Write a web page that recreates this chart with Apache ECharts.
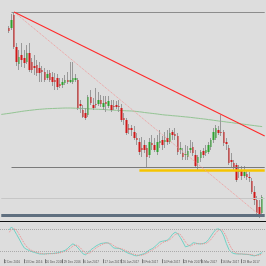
<!DOCTYPE html>
<html><head><meta charset="utf-8">
<script src="https://cdn.jsdelivr.net/npm/echarts@6/dist/echarts.min.js"></script>
<style>html,body{margin:0;padding:0;background:#dddddd}#c{width:266px;height:266px}</style>
</head><body><div id="c"></div>
<script>
// OHLC of the visible bars (price units, arbitrary scale)
const opens=[192,192,205,173,156,165,162,158,167,158,154,155,152,150,148,142,147,143,140,142,136,135,137,140,138,138,140,140,116,110,107,105,123,115,116,116,120,113,118,114,115,114,115,114,112,102,100,92,92,88,82,78,72,75,72,65,77,75,68,77,80,78,82,78,88,86,84,70,67,65,63,70,73,65,57,62,69,67,68,73,80,82,90,88,88,78,72,60,57,55,48,50,44,46,43,39,28,20,13,7];
const closes=[189,200,173,158,163,160,157,167,150,150,152,147,147,148,140,146,140,138,138,133,134,138,140,138,140,142,142,112,114,103,102,123,117,112,115,120,116,117,116,119,110,113,113,113,100,100,87,90,90,82,80,68,70,70,63,78,75,70,78,79,75,80,78,87,85,84,68,72,63,66,69,72,67,54,63,68,65,70,75,80,88,92,87,87,77,76,57,58,52,40,50,44,48,43,42,28,20,7,3,23];
const lows=[187,190,171,154,150,153,152,156,148,147,145,144,138,138,138,140,138,134,130,130,132,132,135,136,137,136,138,110,107,102,100,103,115,110,112,114,113,110,108,112,108,110,111,108,98,95,85,86,84,80,75,65,63,67,52,62,70,68,65,72,70,72,75,76,80,80,65,66,60,60,60,67,64,52,50,58,62,64,66,70,77,80,85,84,74,70,55,52,50,38,42,40,42,40,38,26,15,5,2,4];
const highs=[194,206,208,177,170,177,170,175,177,162,165,160,158,154,152,150,150,148,147,146,142,142,145,148,158,158,146,142,120,115,112,125,130,122,132,128,125,124,124,124,120,120,119,120,116,107,102,96,95,94,87,82,83,80,75,82,85,82,85,90,84,88,90,92,90,92,87,78,72,75,74,80,78,70,65,70,72,75,78,82,92,95,94,105,90,82,75,67,60,57,55,54,54,50,48,42,34,24,20,25];
// moving average (first three values belong to bars just left of the view)
const maLead=[105.6,105.9,106.3];
const maValues=[106.6,107.0,107.4,107.8,108.2,108.6,109.0,109.3,109.6,109.9,110.2,110.5,110.7,110.9,111.1,111.3,111.4,111.5,111.6,111.7,111.8,111.9,112.0,112.0,112.0,111.9,111.8,111.7,111.6,111.5,111.4,111.2,111.1,111.0,110.8,110.7,110.6,110.5,110.3,110.1,110.0,109.8,109.7,109.6,109.4,109.3,109.2,109.1,109.0,108.8,108.5,108.2,107.9,107.5,107.2,106.9,106.6,106.3,106.0,105.6,105.3,105.0,104.8,104.6,104.3,104.1,103.9,103.6,103.4,103.1,102.9,102.6,102.3,102.0,101.7,101.4,101.1,100.8,100.4,100.1,99.7,99.4,99.0,98.7,98.4,98.0,97.7,97.4,97.0,96.7,96.4,96.0,95.7,95.4,95.0,94.7,94.4,94.0,93.7,93.4];
// stochastic oscillator
const stochMain=[78,86,78,66,54,41,30,26,23,20,18,16,14,14,14,15,15,15,16,17,19,21,24,29,36,41,37,30,22,14,12,18,25,30,35,39,42,43,44,43,36,30,29,29,26,22,18,15,13,10,9,11,13,15,20,25,28,33,40,46,48,49,51,58,67,72,68,58,46,33,35,38,44,43,41,41,42,45,52,62,72,80,81,76,62,42,26,18,15,14,14,14,13,13,12,10,9,11,14,18];
const stochSignal=[72,78,82,77,66,54,42,33,27,23,20,18,16,15,14,14,15,15,15,16,17,19,21,25,29,35,38,36,30,22,16,15,18,24,30,34,38,41,43,43,41,36,32,29,28,25,22,18,15,13,11,10,11,13,16,20,24,29,33,39,44,47,49,53,59,66,69,66,57,46,38,35,39,41,42,41,41,42,46,53,62,71,78,79,73,60,43,29,20,16,14,14,14,13,13,12,10,10,11,14];
const stochLevels=[20,80];
// date axis
const tickLabels=["2 Dec 2016","13 Dec 2016","20 Dec 2016","29 Dec 2016","6 Jan 2017","17 Jan 2017","26 Jan 2017","3 Feb 2017","14 Feb 2017","23 Feb 2017","6 Mar 2017","16 Mar 2017","23 Mar 2017"];
const tickBars=[-2,6,14,21,29,37,44,52,60,68,75,83,91]; // visible-bar index of each label
// drawn objects (bar index, price)
const hLineTop={from:1,price:208};
const hLineSupport={from:1,price:52.7};
const hLineYellow={from:51,price:50};
const hLineFaint={from:-3,price:21.3};
const hLineBottom={from:-3,price:4.5};
const trendRed=[[2,208],[100,84]];
const trendDotted=[[2,208],[97,7]];

const LEAD=3, TRAIL=1, N=opens.length, TOTAL=LEAD+N+TRAIL;
const cats=[]; for(let i=0;i<TOTAL;i++) cats.push('c'+i);
const labelAt={}; tickBars.forEach((b,k)=>{labelAt[b+LEAD]=tickLabels[k];});
const pad=a=>Array(LEAD).fill('-').concat(a,Array(TRAIL).fill('-'));
const wickData=pad(opens.map((o,i)=>[lows[i],lows[i],lows[i],highs[i]]));
const bodyData=pad(opens.map((o,i)=>[o,closes[i],Math.min(o,closes[i]),Math.max(o,closes[i])]));
const c=j=>j+LEAD;
const lastC=TOTAL-1;
const hl=(h,col,w,type)=>[{coord:[c(h.from)<0?0:c(h.from),h.price],lineStyle:{color:col,width:w,type:type||'solid'}},{coord:[lastC,h.price]}];
const tl=(t,col,w,type)=>[{coord:[c(t[0][0]),t[0][1]],lineStyle:{color:col,width:w,type:type}},{coord:[c(t[1][0]),t[1][1]]}];

const bw=2.66, gl=-8, gw=TOTAL*bw;
const chart=echarts.init(document.getElementById('c'),null,{renderer:'canvas'});
const isTick=(i)=>labelAt[i]!==undefined;
chart.setOption({
  animation:false,
  backgroundColor:'#dddddd',
  grid:[{left:gl,top:0,width:gw,height:220},{left:gl,top:221,width:gw,height:38.2}],
  xAxis:[
    {type:'category',data:cats,gridIndex:0,show:false},
    {type:'category',data:cats,gridIndex:1,position:'bottom',axisLine:{show:false},
     axisTick:{show:true,alignWithLabel:true,interval:(i)=>isTick(i),length:4,lineStyle:{color:'#777',width:1}},
     axisLabel:{interval:(i)=>isTick(i),formatter:(v,i)=>labelAt[i]||'',fontSize:3,fontFamily:'Liberation Sans',color:'#555',align:'left',margin:1,padding:[0,0,0,1]}},
    {type:'category',data:cats,gridIndex:1,position:'top',axisLine:{show:true,lineStyle:{color:'#111',width:1}},axisTick:{show:false},axisLabel:{show:false}}
  ],
  yAxis:[
    {type:'value',gridIndex:0,min:0,max:220,show:false,splitLine:{show:false}},
    {type:'value',gridIndex:1,min:0,max:102,show:false,splitLine:{show:false}}
  ],
  series:[
    {type:'line',name:'MA',xAxisIndex:0,yAxisIndex:0,data:maLead.concat(maValues,['-']),symbol:'none',lineStyle:{color:'#93c493',width:1},z:1,
     markLine:{silent:true,symbol:['none','none'],label:{show:false},animation:false,data:[
       hl(hLineTop,'#8c8c8c',1),
       hl(hLineSupport,'#7a7a7a',1),
       hl(hLineYellow,'#f5c400',2.5),
       hl(hLineFaint,'#c6c6c6',1),
       hl(hLineBottom,'#5f6f7f',3),
       tl(trendDotted,'#f29a9a',1,'dotted'),
       tl(trendRed,'#ff2a2a',1.1,'solid')
     ]}},
    {type:'candlestick',name:'wick',xAxisIndex:0,yAxisIndex:0,data:wickData,barWidth:1,z:2,
     itemStyle:{color:'#999',color0:'#999',borderColor:'#999',borderColor0:'#999',borderWidth:1}},
    {type:'candlestick',name:'body',xAxisIndex:0,yAxisIndex:0,data:bodyData,barWidth:2,z:3,
     itemStyle:{color:'#2ea32e',color0:'#d01818',borderColor:'#2ea32e',borderColor0:'#d01818',borderWidth:0}},
    {type:'line',name:'main',xAxisIndex:1,yAxisIndex:1,data:pad(stochMain),symbol:'none',lineStyle:{color:'#6fd3c6',width:1},
     markLine:{silent:true,symbol:['none','none'],label:{show:false},animation:false,
       data:stochLevels.map(v=>({yAxis:v,lineStyle:{color:'#aaaaaa',width:1,type:'dotted'}}))}},
    {type:'line',name:'signal',xAxisIndex:1,yAxisIndex:1,data:pad(stochSignal),symbol:'none',lineStyle:{color:'#f08a8a',width:1,type:'dotted'}}
  ]
});
</script></body></html>
